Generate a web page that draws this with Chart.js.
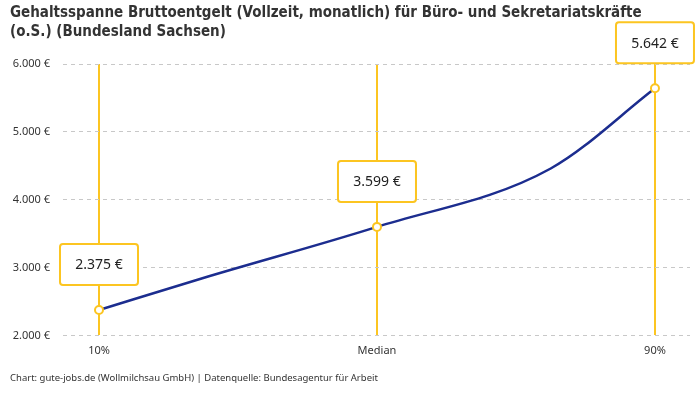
<!DOCTYPE html>
<html>
<head>
<meta charset="utf-8">
<script src="https://cdn.jsdelivr.net/npm/chart.js@4/dist/chart.umd.min.js"></script>
<style>
  html, body { margin: 0; padding: 0; background: #fff; }
  #wrap { width: 700px; height: 400px; }
</style>
</head>
<body>
<div id="wrap"><canvas id="salaryChart" width="700" height="400"></canvas></div>
<script>
const percentiles = [10, 25, 50, 75, 90];
const salaries = [2375, 2846, 3599, 4460, 5642];
const markedPercentiles = [10, 50, 90];
const tickLabels = { 10: '10%', 50: 'Median', 90: '90%' };
const yTicks = [2000, 3000, 4000, 5000, 6000];

const yellow = '#fcc521';
const navy = '#1c2d8f';
const textColor = '#333';
const bodyFont = "'Noto Sans', 'Open Sans', sans-serif";

const euro = v => v.toLocaleString('de-DE') + ' €';

const valueBoxes = {
    id: 'valueBoxes',
    afterDatasetsDraw(chart) {
        const ctx = chart.ctx;
        const meta = chart.getDatasetMeta(0);
        ctx.save();
        meta.data.forEach((pt, i) => {
            if (!markedPercentiles.includes(percentiles[i])) {
                return;
            }
            const w = 78, h = 41;
            const x = pt.x - w / 2;
            const y = pt.y - 25 - h;
            ctx.fillStyle = '#fff';
            ctx.strokeStyle = yellow;
            ctx.lineWidth = 2;
            ctx.beginPath();
            ctx.roundRect(x, y, w, h, 3);
            ctx.fill();
            ctx.stroke();
            ctx.fillStyle = '#222';
            ctx.font = '14px ' + bodyFont;
            ctx.textAlign = 'center';
            ctx.textBaseline = 'middle';
            ctx.fillText(euro(salaries[i]), pt.x, y + h / 2 + 1);
        });
        ctx.restore();
    }
};

const ctx = document.getElementById('salaryChart').getContext('2d');
new Chart(ctx, {
    type: 'line',
    data: {
        datasets: [{
            data: percentiles.map((p, i) => ({ x: p, y: salaries[i] })),
            borderColor: navy,
            borderWidth: 2.5,
            cubicInterpolationMode: 'monotone',
            pointRadius: percentiles.map(p => markedPercentiles.includes(p) ? 4 : 0),
            pointBackgroundColor: '#fff',
            pointBorderColor: yellow,
            pointBorderWidth: 2,
        }]
    },
    options: {
        responsive: false,
        animation: false,
        events: [],
        layout: { padding: { left: 10, right: 10, top: 0, bottom: 4 } },
        scales: {
            x: {
                type: 'linear',
                min: 4.82,
                max: 95.04,
                afterBuildTicks: axis => {
                    axis.ticks = markedPercentiles.map(v => ({ value: v }));
                },
                border: { display: false },
                grid: {
                    color: yellow,
                    lineWidth: 2,
                    drawTicks: false,
                },
                ticks: {
                    padding: 9,
                    color: textColor,
                    font: { family: bodyFont, size: 11 },
                    callback: v => tickLabels[v] || '',
                },
            },
            y: {
                min: 2000,
                max: 6000,
                afterBuildTicks: axis => {
                    axis.ticks = yTicks.map(v => ({ value: v }));
                },
                afterFit: axis => {
                    axis.width = 53;
                },
                border: { display: false, dash: [4, 4] },
                grid: {
                    color: '#c8c8c8',
                    lineWidth: 1,
                    drawTicks: false,
                },
                ticks: {
                    padding: 13,
                    color: textColor,
                    font: { family: bodyFont, size: 11 },
                    callback: v => euro(v),
                },
            },
        },
        plugins: {
            legend: { display: false },
            tooltip: { enabled: false },
            title: {
                display: true,
                align: 'start',
                text: ['Gehaltsspanne Bruttoentgelt (Vollzeit, monatlich) für Büro- und Sekretariatskräfte', '(o.S.) (Bundesland Sachsen)'],
                color: textColor,
                font: { family: "'Liberation Sans Narrow', 'DejaVu Sans Condensed', sans-serif", size: 15, weight: 'bold', lineHeight: 1.3 },
                padding: { top: 3, bottom: 22 },
            },
            subtitle: {
                display: true,
                position: 'bottom',
                align: 'start',
                text: 'Chart: gute-jobs.de (Wollmilchsau GmbH) | Datenquelle: Bundesagentur für Arbeit',
                color: textColor,
                font: { family: bodyFont, size: 9.5 },
                padding: { top: 6, bottom: 12 },
            },
        },
    },
    plugins: [valueBoxes],
});
</script>
</body>
</html>
